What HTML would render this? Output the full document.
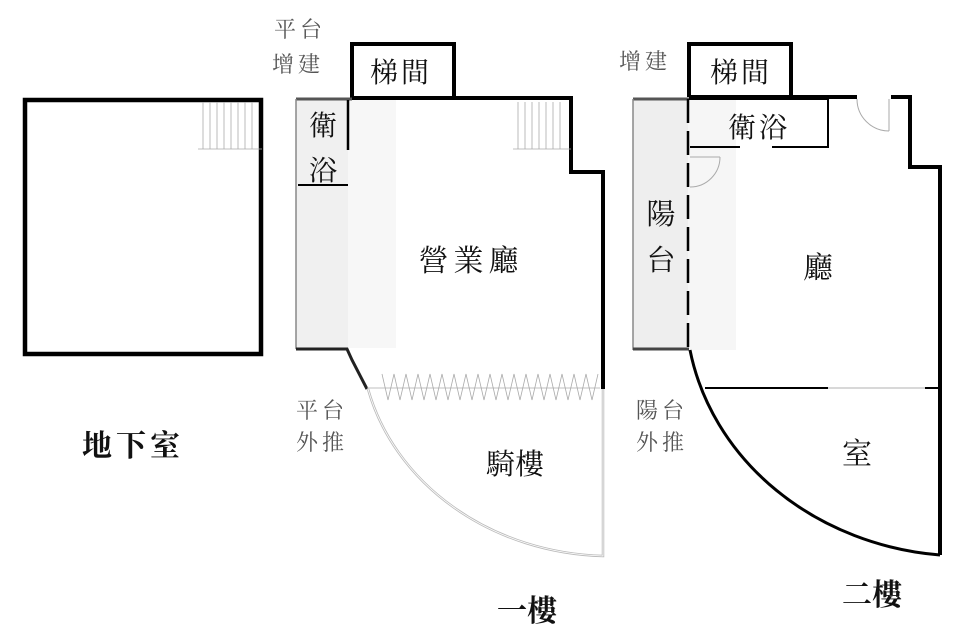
<!DOCTYPE html>
<html><head><meta charset="utf-8"><style>
html,body{margin:0;padding:0;background:#fff;width:962px;height:636px;overflow:hidden}
svg{display:block}
text{font-family:"Liberation Serif","Noto Serif CJK SC","Noto Sans CJK TC",serif;fill:#111}
.g{fill:#555}
</style></head><body>
<svg width="962" height="636" viewBox="0 0 962 636" xmlns="http://www.w3.org/2000/svg">
<!-- Basement -->
<rect x="25" y="100" width="236" height="254" fill="none" stroke="#000" stroke-width="4.5"/>
<g stroke="#aaa" stroke-width="0.8">
<line x1="198" y1="149" x2="262" y2="149"/>
<line x1="203" y1="102" x2="203" y2="149"/><line x1="210" y1="102" x2="210" y2="149"/><line x1="217" y1="102" x2="217" y2="149"/><line x1="224" y1="102" x2="224" y2="149"/><line x1="231" y1="102" x2="231" y2="149"/><line x1="238" y1="102" x2="238" y2="149"/><line x1="245" y1="102" x2="245" y2="149"/><line x1="252" y1="102" x2="252" y2="149"/>
</g>
<text x="133" y="456" font-size="30" font-weight="bold" text-anchor="middle" letter-spacing="4">地下室</text>

<!-- 1F -->
<rect x="296" y="100" width="100" height="248" fill="#f6f6f6"/>
<rect x="296" y="100" width="52" height="248" fill="#f0f0f0"/>
<rect x="348" y="100" width="48" height="248" fill="#f7f7f7"/>
<rect x="396" y="100" width="175" height="285" fill="#fff"/>
<polyline points="352,98 352,44 454,44 454,98" fill="none" stroke="#000" stroke-width="4"/>
<polyline points="352,98 571,98 571,172 603,172 603,389" fill="none" stroke="#000" stroke-width="4"/>
<line x1="296" y1="99" x2="352" y2="99" stroke="#555" stroke-width="3"/>
<line x1="296" y1="99" x2="296" y2="349" stroke="#888" stroke-width="1.5"/>
<polyline points="348,100 348,150" fill="none" stroke="#000" stroke-width="2.5"/>
<line x1="298" y1="185" x2="348" y2="185" stroke="#000" stroke-width="2"/>
<polyline points="296,349 347,349 352,360 367,389" fill="none" stroke="#222" stroke-width="3"/>
<g stroke="#aaa" stroke-width="0.8">
<line x1="513" y1="149" x2="571" y2="149"/>
<line x1="518" y1="102" x2="518" y2="149"/><line x1="525" y1="102" x2="525" y2="149"/><line x1="532" y1="102" x2="532" y2="149"/><line x1="539" y1="102" x2="539" y2="149"/><line x1="546" y1="102" x2="546" y2="149"/><line x1="553" y1="102" x2="553" y2="149"/><line x1="560" y1="102" x2="560" y2="149"/>
<line x1="367" y1="388" x2="600" y2="388"/>
<polyline fill="none" points="382,374 388,400 394,374 400,400 406,374 412,400 418,374 424,400 430,374 436,400 442,374 448,400 454,374 460,400 466,374 472,400 478,374 484,400 490,374 496,400 502,374 508,400 514,374 520,400 526,374 532,400 538,374 544,400 550,374 556,400 562,374 568,400 574,374 580,400 586,374 592,400 598,374"/>
</g>
<path d="M368,389 A250,220 0 0 0 603,556 L603,389" fill="none" stroke="#bbb" stroke-width="2.5"/>
<path d="M368,389 A250,220 0 0 0 603,556 L603,389" fill="none" stroke="#fff" stroke-width="0.8"/>
<text x="401" y="82" font-size="28" text-anchor="middle" letter-spacing="3">梯間</text>
<text x="323" y="135" font-size="28" text-anchor="middle">衛</text>
<text x="323" y="180" font-size="28" text-anchor="middle">浴</text>
<text x="471" y="271" font-size="30" text-anchor="middle" letter-spacing="5">營業廳</text>
<text x="515" y="474" font-size="29" text-anchor="middle">騎樓</text>
<text x="527" y="621" font-size="30" font-weight="bold" text-anchor="middle">一樓</text>
<text x="300" y="37" font-size="22" class="g" text-anchor="middle" letter-spacing="4">平台</text>
<text x="298" y="72" font-size="22" class="g" text-anchor="middle" letter-spacing="4">增建</text>
<text x="322" y="418" font-size="22" class="g" text-anchor="middle" letter-spacing="4">平台</text>
<text x="322" y="450" font-size="22" class="g" text-anchor="middle" letter-spacing="4">外推</text>

<!-- 2F -->
<rect x="633" y="100" width="103" height="250" fill="#f6f6f6"/>
<rect x="633" y="100" width="55" height="250" fill="#eeeeee"/>
<polyline points="689,97 689,44 791,44 791,97" fill="none" stroke="#000" stroke-width="4"/>
<polyline points="689,97 857,97" fill="none" stroke="#000" stroke-width="4"/>
<polyline points="891,97 910,97 910,167 940,167 940,555" fill="none" stroke="#000" stroke-width="4"/>
<path d="M857,99 A32,32 0 0 0 889,131" fill="none" stroke="#aaa" stroke-width="1"/>
<line x1="889" y1="99" x2="889" y2="131" stroke="#aaa" stroke-width="1"/>
<line x1="633" y1="99" x2="689" y2="99" stroke="#555" stroke-width="3"/>
<line x1="633" y1="99" x2="633" y2="350" stroke="#888" stroke-width="1.5"/>
<line x1="633" y1="349" x2="689" y2="349" stroke="#444" stroke-width="3"/>
<line x1="688" y1="99" x2="688" y2="350" stroke="#000" stroke-width="2.5" stroke-dasharray="24,8"/>
<polyline points="689,99 828,99 828,147 772,147" fill="none" stroke="#000" stroke-width="2"/>
<line x1="690" y1="147" x2="740" y2="147" stroke="#000" stroke-width="2"/>
<path d="M720,157 A30,30 0 0 1 690,187" fill="none" stroke="#aaa" stroke-width="1"/>
<line x1="690" y1="157" x2="720" y2="157" stroke="#aaa" stroke-width="1"/>
<line x1="705" y1="388" x2="828" y2="388" stroke="#000" stroke-width="2"/>
<line x1="828" y1="388" x2="925" y2="388" stroke="#ccc" stroke-width="1.5"/>
<line x1="925" y1="388" x2="940" y2="388" stroke="#000" stroke-width="2"/>
<path d="M690,350 A280,250 0 0 0 940,555" fill="none" stroke="#000" stroke-width="3"/>
<text x="741" y="82" font-size="28" text-anchor="middle" letter-spacing="3">梯間</text>
<text x="759" y="137" font-size="28" text-anchor="middle" letter-spacing="3">衛浴</text>
<text x="661" y="224" font-size="29" text-anchor="middle">陽</text>
<text x="661" y="270" font-size="29" text-anchor="middle">台</text>
<text x="818" y="278" font-size="30" text-anchor="middle">廳</text>
<text x="857" y="464" font-size="30" text-anchor="middle">室</text>
<text x="872" y="605" font-size="30" font-weight="bold" text-anchor="middle">二樓</text>
<text x="645" y="69" font-size="22" class="g" text-anchor="middle" letter-spacing="4">增建</text>
<text x="662" y="418" font-size="22" class="g" text-anchor="middle" letter-spacing="4">陽台</text>
<text x="662" y="450" font-size="22" class="g" text-anchor="middle" letter-spacing="4">外推</text>
</svg>
</body></html>
